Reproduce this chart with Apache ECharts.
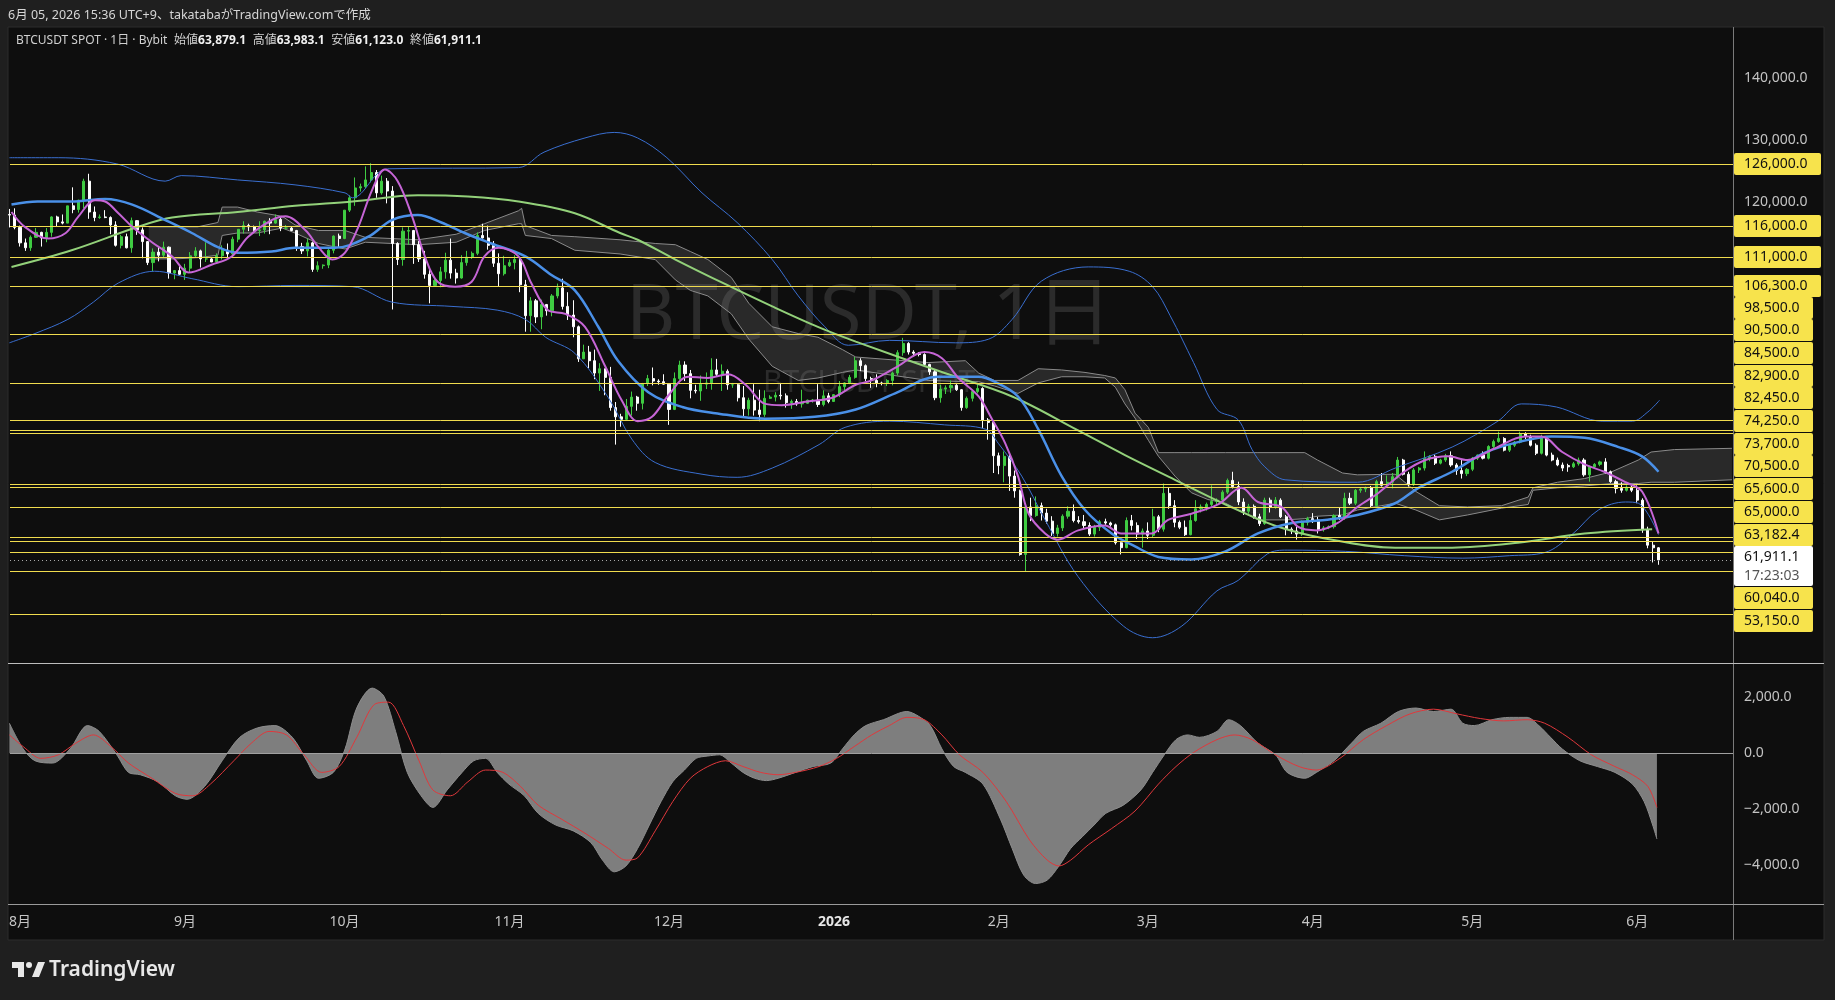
<!DOCTYPE html>
<html lang="ja">
<head>
<meta charset="UTF-8">
<title>BTCUSDT SPOT 1日</title>
<script src="https://cdn.jsdelivr.net/npm/echarts@6/dist/echarts.min.js"></script>
<style>
  html, body { margin: 0; padding: 0; background: #1f1f1f; }
  #chart { width: 1835px; height: 1000px; }
</style>
</head>
<body>
<div id="chart"></div>
<script>
// daily candles, first one is 2025-07-30 (day index -2, 2025-08-01 = 0), prices in thousand USDT
const openK = [
  117.9, 117.8,
  // Aug
  115.8, 113.3, 112.5, 114.2, 115.0, 114.1, 115.0, 117.5, 116.7, 116.5, 119.3, 118.7, 120.2, 123.3, 118.3, 117.4,
  117.5, 117.4, 116.2, 112.9, 114.3, 112.5, 116.9, 115.4, 113.5, 110.1, 111.8, 111.3, 112.6, 108.4, 108.8,
  // Sep
  108.2, 109.2, 111.2, 112.0, 110.7, 110.7, 110.2, 111.2, 112.1, 111.5, 113.9, 115.5, 116.1, 115.9, 115.3,
  115.4, 116.8, 116.5, 117.1, 115.7, 115.7, 115.3, 112.7, 112.0, 113.3, 109.0, 109.6, 109.7, 112.1, 114.4,
  // Oct
  114.0, 118.6, 120.6, 122.2, 122.4, 123.5, 124.7, 121.4, 123.3, 121.7, 113.2, 110.6, 115.2, 115.3, 113.0, 110.7,
  108.2, 106.4, 107.2, 108.6, 110.5, 108.4, 107.6, 110.1, 111.0, 111.6, 114.5, 114.1, 112.9, 110.0, 108.3,
  // Nov
  109.6, 110.1, 110.6, 106.5, 101.5, 103.9, 101.3, 103.3, 102.3, 104.7, 106.0, 103.0, 101.6, 99.7, 94.5,
  95.6, 94.2, 92.2, 92.9, 91.5, 86.6, 85.1, 84.7, 86.8, 88.3, 87.3, 90.5, 91.3, 90.9, 90.8,
  // Dec
  90.4, 86.3, 91.3, 93.5, 92.1, 89.4, 89.3, 90.4, 90.6, 92.7, 92.0, 92.5, 90.3, 90.3, 88.2, 86.4,
  87.8, 86.2, 85.5, 88.1, 88.3, 88.6, 88.5, 87.4, 87.6, 87.2, 87.3, 87.8, 87.8, 87.1, 88.5,
  // Jan
  87.6, 88.7, 90.0, 90.6, 91.5, 94.2, 93.4, 91.3, 91.0, 90.6, 90.5, 91.0, 92.2, 95.5, 97.0, 95.6,
  95.4, 95.2, 93.6, 92.4, 88.2, 89.6, 89.8, 90.2, 89.5, 86.6, 88.1, 89.2, 89.7, 84.6, 84.2,
  // Feb
  78.8, 77.2, 78.7, 75.5, 73.1, 62.8, 70.5, 69.1, 70.7, 69.5, 68.2, 66.2, 67.1, 69.0,
  69.8, 68.3, 68.1, 67.5, 66.1, 67.2, 68.1, 67.9, 67.6, 64.7, 63.9, 68.3, 67.5, 66.1,
  // Mar
  66.6, 65.9, 68.9, 66.9, 72.7, 70.7, 68.0, 67.2, 66.0, 68.3, 70.2, 70.5, 70.9, 71.4, 71.6, 72.9,
  74.8, 73.8, 71.3, 69.8, 70.6, 68.9, 67.8, 71.6, 70.5, 71.6, 68.9, 66.9, 66.6, 66.1, 68.0,
  // Apr
  68.6, 68.4, 66.8, 67.1, 67.3, 69.1, 68.7, 71.9, 71.1, 73.2, 73.4, 73.6, 70.7, 74.6, 74.0,
  74.5, 75.4, 78.1, 75.8, 74.1, 76.5, 76.8, 78.4, 78.7, 77.6, 78.1, 78.8, 77.3, 76.4, 75.9,
  // May
  76.6, 78.4, 78.9, 78.4, 80.3, 81.1, 81.6, 79.7, 80.5, 81.0, 82.4, 81.9, 80.5, 79.2, 81.9, 78.9,
  78.1, 77.3, 77.2, 77.0, 77.5, 78.1, 75.7, 77.0, 77.4, 77.8, 76.2, 74.6, 73.5, 73.2, 73.7,
  // Jun
  73.2, 71.6, 66.8, 64.3, 63.8791
];
const highK = [
  118.8, 118.9,
  116.1, 114.0, 114.5, 115.7, 115.1, 115.7, 117.6, 117.7, 117.9, 119.3, 122.3, 120.3, 123.7, 124.5, 119.2, 117.9,
  118.6, 117.6, 116.8, 114.6, 114.8, 117.4, 117.0, 115.8, 113.6, 112.4, 112.6, 113.5, 112.7, 108.9, 109.5,
  109.9, 111.8, 112.6, 112.2, 113.4, 111.0, 111.6, 112.9, 113.2, 114.3, 115.5, 116.8, 116.4, 116.1, 116.8,
  116.9, 117.3, 117.9, 117.5, 116.2, 115.9, 115.4, 113.3, 114.0, 113.5, 110.3, 109.8, 112.4, 114.5, 114.8,
  118.6, 121.0, 123.9, 122.9, 125.7, 126.2, 125.1, 124.2, 123.8, 122.5, 113.4, 115.8, 116.0, 115.4, 113.6, 112.0,
  109.2, 107.5, 109.4, 111.7, 114.0, 109.1, 111.3, 112.0, 111.9, 115.0, 116.4, 116.1, 113.6, 111.6, 111.2,
  110.6, 111.3, 110.8, 107.3, 104.5, 104.2, 104.1, 103.4, 105.0, 106.7, 107.5, 105.3, 104.0, 99.9, 96.8,
  96.6, 96.0, 93.8, 92.9, 93.2, 87.5, 85.6, 88.0, 89.2, 88.5, 90.6, 91.9, 93.1, 91.2, 92.0,
  90.4, 92.3, 94.2, 94.1, 92.7, 90.3, 91.8, 92.3, 94.6, 94.5, 93.6, 92.8, 90.6, 90.5, 90.1, 88.2,
  90.4, 89.5, 89.4, 88.6, 89.1, 90.6, 88.9, 87.9, 88.0, 89.5, 87.9, 88.0, 90.4, 89.4, 89.0,
  88.8, 90.9, 90.7, 91.9, 94.8, 94.6, 93.6, 91.6, 92.0, 90.8, 91.2, 92.4, 95.9, 97.9, 97.2, 95.9,
  95.6, 95.4, 93.7, 92.7, 90.3, 90.2, 91.0, 90.4, 89.6, 88.4, 89.4, 90.3, 89.9, 84.9, 84.5,
  79.3, 79.5, 79.2, 76.4, 73.3, 71.0, 72.0, 72.2, 71.2, 70.2, 69.0, 67.6, 69.3, 70.6,
  70.9, 69.0, 69.2, 68.0, 67.6, 68.4, 68.6, 68.1, 67.8, 65.0, 68.8, 69.2, 68.0, 67.0,
  68.0, 70.2, 69.2, 74.3, 73.7, 71.6, 68.3, 68.3, 69.4, 71.6, 70.9, 71.2, 74.0, 71.9, 73.2, 75.1,
  76.2, 74.6, 71.9, 71.0, 70.9, 69.4, 72.0, 72.0, 72.1, 71.9, 69.2, 67.2, 67.3, 68.3, 68.9,
  69.5, 68.9, 67.4, 67.5, 69.3, 70.4, 72.8, 72.8, 73.4, 73.6, 73.8, 73.9, 74.9, 76.0, 75.6,
  76.0, 78.6, 78.3, 76.2, 76.8, 77.0, 79.5, 78.9, 79.0, 78.3, 79.1, 79.5, 77.6, 78.1, 76.8,
  78.6, 79.0, 79.5, 80.5, 81.4, 82.7, 81.8, 80.7, 81.2, 82.7, 82.6, 82.2, 80.8, 82.2, 82.0, 79.3,
  78.5, 77.7, 77.5, 77.8, 78.5, 78.4, 77.2, 77.6, 78.0, 78.4, 76.4, 74.9, 74.5, 74.0, 74.0,
  74.0, 71.9, 67.3, 64.9, 63.9831
];
const lowK = [
  115.8, 115.5,
  112.7, 112.0, 112.0, 114.1, 112.7, 113.4, 114.3, 115.9, 116.3, 116.5, 118.1, 118.2, 118.9, 117.2, 116.8, 117.2,
  117.3, 114.7, 112.7, 112.4, 112.4, 111.7, 114.6, 110.8, 109.7, 108.7, 110.3, 110.9, 107.5, 107.4, 108.1,
  107.3, 108.6, 110.9, 109.3, 110.2, 110.2, 110.0, 110.6, 110.8, 110.9, 113.4, 114.8, 115.2, 115.1, 114.4,
  114.8, 114.7, 116.4, 115.2, 115.5, 115.2, 112.0, 111.5, 111.1, 108.6, 108.6, 109.1, 109.2, 111.6, 112.6,
  113.9, 118.3, 119.3, 121.6, 122.1, 123.1, 120.6, 121.1, 119.7, 102.5, 109.7, 109.6, 113.0, 109.9, 110.2, 107.5,
  103.5, 106.3, 106.1, 107.5, 107.5, 106.7, 107.5, 109.6, 110.7, 111.3, 114.0, 112.2, 109.4, 106.3, 108.0,
  109.4, 109.0, 105.3, 98.9, 98.9, 100.3, 99.3, 101.5, 101.4, 104.3, 102.5, 100.8, 98.0, 94.0, 94.5,
  93.0, 91.2, 89.3, 88.6, 86.1, 80.6, 83.5, 84.6, 85.3, 86.1, 86.3, 90.1, 90.2, 90.3, 90.3,
  83.8, 86.2, 91.1, 90.9, 88.1, 88.9, 87.7, 89.6, 89.5, 91.6, 89.3, 89.5, 89.8, 87.6, 85.1, 85.3,
  85.3, 84.4, 85.1, 88.0, 87.6, 87.9, 86.6, 86.4, 86.9, 86.6, 87.2, 87.4, 86.7, 86.8, 87.3,
  87.5, 88.3, 89.3, 90.4, 91.3, 92.5, 90.9, 89.8, 89.9, 90.2, 90.1, 90.2, 91.8, 95.0, 95.2, 94.9,
  94.9, 93.2, 91.9, 87.8, 87.4, 88.8, 89.0, 89.3, 86.1, 86.4, 87.6, 88.9, 83.3, 81.4, 76.0,
  75.8, 74.5, 73.1, 72.0, 62.6, 60.1, 68.2, 68.9, 68.3, 67.8, 65.8, 65.7, 66.6, 68.6,
  68.0, 67.8, 66.9, 65.8, 65.7, 66.6, 67.6, 67.3, 64.4, 62.8, 63.8, 66.7, 65.3, 63.9,
  65.3, 65.6, 66.4, 66.5, 70.2, 67.2, 66.9, 65.8, 65.9, 68.1, 69.6, 69.9, 70.6, 70.9, 71.3, 72.6,
  73.5, 70.8, 69.2, 69.4, 68.6, 67.4, 67.6, 69.6, 70.2, 68.7, 65.9, 66.1, 65.2, 65.8, 67.5,
  67.9, 66.2, 66.5, 66.9, 67.0, 68.4, 68.4, 70.8, 70.8, 72.8, 72.9, 70.4, 70.5, 73.8, 73.6,
  73.5, 75.1, 75.6, 73.8, 73.9, 76.0, 76.4, 77.9, 77.3, 77.4, 77.8, 77.0, 75.7, 75.1, 75.5,
  76.3, 78.1, 78.2, 78.2, 80.0, 80.9, 79.5, 79.4, 80.2, 80.8, 81.5, 80.3, 78.9, 79.0, 78.7, 77.9,
  77.1, 76.3, 76.2, 76.8, 77.2, 75.4, 74.6, 76.7, 77.1, 75.9, 74.4, 72.7, 72.8, 73.0, 72.9,
  71.1, 66.3, 63.8, 61.5, 61.123
];
const closeK = [
  117.8, 115.8,
  113.3, 112.5, 114.2, 115.0, 114.1, 115.0, 117.5, 116.7, 116.5, 119.3, 118.7, 120.2, 123.3, 118.3, 117.4, 117.5,
  117.4, 116.2, 112.9, 114.3, 112.5, 116.9, 115.4, 113.5, 110.1, 111.8, 111.3, 112.6, 108.4, 108.8, 108.2,
  109.2, 111.2, 112.0, 110.7, 110.7, 110.2, 111.2, 112.1, 111.5, 113.9, 115.5, 116.1, 115.9, 115.3, 115.4,
  116.8, 116.5, 117.1, 115.7, 115.7, 115.3, 112.7, 112.0, 113.3, 109.0, 109.6, 109.7, 112.1, 114.4, 114.0,
  118.6, 120.6, 122.2, 122.4, 123.5, 124.7, 121.4, 123.3, 121.7, 113.2, 110.6, 115.2, 115.3, 113.0, 110.7, 108.2,
  106.4, 107.2, 108.6, 110.5, 108.4, 107.6, 110.1, 111.0, 111.6, 114.5, 114.1, 112.9, 110.0, 108.3, 109.6,
  110.1, 110.6, 106.5, 101.5, 103.9, 101.3, 103.3, 102.3, 104.7, 106.0, 103.0, 101.6, 99.7, 94.5, 95.6,
  94.2, 92.2, 92.9, 91.5, 86.6, 85.1, 84.7, 86.8, 88.3, 87.3, 90.5, 91.3, 90.9, 90.8, 90.4,
  86.3, 91.3, 93.5, 92.1, 89.4, 89.3, 90.4, 90.6, 92.7, 92.0, 92.5, 90.3, 90.3, 88.2, 86.4, 87.8,
  86.2, 85.5, 88.1, 88.3, 88.6, 88.5, 87.4, 87.6, 87.2, 87.3, 87.8, 87.8, 87.1, 88.5, 87.6,
  88.7, 90.0, 90.6, 91.5, 94.2, 93.4, 91.3, 91.0, 90.6, 90.5, 91.0, 92.2, 95.5, 97.0, 95.6, 95.4,
  95.2, 93.6, 92.4, 88.2, 89.6, 89.8, 90.2, 89.5, 86.6, 88.1, 89.2, 89.7, 84.6, 84.2, 78.8,
  77.2, 78.7, 75.5, 73.1, 62.8, 70.5, 69.1, 70.7, 69.5, 68.2, 66.2, 67.1, 69.0, 69.8,
  68.3, 68.1, 67.5, 66.1, 67.2, 68.1, 67.9, 67.6, 64.7, 63.9, 68.3, 67.5, 66.1, 66.6,
  65.9, 68.9, 66.9, 72.7, 70.7, 68.0, 67.2, 66.0, 68.3, 70.2, 70.5, 70.9, 71.4, 71.6, 72.9, 74.8,
  73.8, 71.3, 69.8, 70.6, 68.9, 67.8, 71.6, 70.5, 71.6, 68.9, 66.9, 66.6, 66.1, 68.0, 68.6,
  68.4, 66.8, 67.1, 67.3, 69.1, 68.7, 71.9, 71.1, 73.2, 73.4, 73.6, 70.7, 74.6, 74.0, 74.5,
  75.4, 78.1, 75.8, 74.1, 76.5, 76.8, 78.4, 78.7, 77.6, 78.1, 78.8, 77.3, 76.4, 75.9, 76.6,
  78.4, 78.9, 78.4, 80.3, 81.1, 81.6, 79.7, 80.5, 81.0, 82.4, 81.9, 80.5, 79.2, 81.9, 78.9, 78.1,
  77.3, 76.8, 77.0, 77.5, 78.1, 75.7, 77.0, 77.4, 77.8, 76.2, 74.6, 73.5, 73.2, 73.7, 73.2,
  71.6, 66.8, 64.3, 63.8791, 61.9111
];
const firstDay = -2;

// indicator lines: [day index, thousand USDT]
const maShort = [[-1.6,118.3],[0.9,115.9],[5.3,114.0],[8.6,114.9],[11.0,117.6],[14.1,120.2],[16.0,120.0],[18.5,118.1],[21.1,115.9],[24.8,113.4],[28.6,111.1],[31.7,108.5],[36.1,109.8],[39.8,111.1],[42.9,114.3],[47.3,117.0],[49.9,117.6],[53.7,115.3],[56.1,112.6],[58.7,110.6],[61.1,111.7],[63.6,115.9],[66.2,121.9],[68.6,125.2],[71.0,123.3],[73.7,117.6],[76.1,111.1],[78.5,107.0],[81.8,106.2],[84.9,107.0],[87.3,111.1],[90.0,112.5],[93.7,111.1],[96.1,106.8],[99.2,102.4],[102.5,101.8],[106.2,99.7],[110.0,93.3],[113.1,87.8],[116.1,84.4],[118.8,85.1],[121.9,88.6],[125.6,91.6],[129.3,91.4],[133.1,92.0],[136.4,90.3],[140.1,87.2],[143.2,87.0],[148.0,87.6],[152.7,88.2],[157.1,90.3],[160.1,91.0],[165.0,93.3],[170.0,95.6],[173.3,94.6],[176.4,91.4],[180.2,88.4],[182.8,84.6],[185.2,80.8],[187.6,75.5],[189.6,69.4],[192.7,66.2],[195.1,65.2],[198.9,66.7],[203.9,67.5],[207.0,66.2],[212.7,66.2],[215.8,68.4],[220.2,69.4],[225.2,70.9],[229.6,73.6],[232.7,71.3],[237.1,70.5],[240.2,67.3],[243.9,66.7],[247.7,67.9],[251.4,70.5],[255.4,72.8],[260.2,76.2],[264.2,78.1],[268.4,78.7],[272.1,78.1],[277.2,80.0],[282.9,81.9],[286.0,81.9],[289.9,79.4],[294.1,77.4],[297.8,76.2],[301.8,74.5],[304.9,73.0],[308.0,66.2]];
const maMid = [[-1.6,119.5],[3.3,120.0],[9.7,120.0],[16.0,120.4],[21.1,119.5],[27.3,117.0],[32.3,114.9],[37.2,112.6],[40.9,111.7],[47.3,111.9],[51.7,112.5],[59.2,112.5],[65.5,114.3],[69.9,117.0],[74.8,117.8],[79.2,116.6],[83.6,114.9],[88.6,113.2],[95.0,111.1],[99.9,108.1],[104.3,105.6],[108.7,99.7],[112.4,94.2],[118.1,89.1],[124.5,86.7],[130.7,85.7],[140.1,84.8],[149.4,85.1],[157.1,86.3],[164.5,88.9],[172.5,91.6],[180.2,91.6],[183.2,90.8],[187.6,88.4],[191.4,83.1],[195.8,75.5],[200.2,70.0],[205.2,66.2],[209.6,64.1],[214.0,62.4],[220.2,62.0],[226.6,63.3],[232.7,66.2],[239.1,67.9],[245.3,68.4],[251.4,69.2],[258.5,71.1],[262.9,73.6],[269.2,76.2],[275.4,79.3],[281.6,81.0],[287.9,81.9],[294.1,81.7],[300.5,80.2],[304.9,78.7],[308.0,76.2]];
const maLong = [[-1.6,109.4],[9.7,112.1],[22.2,115.9],[28.6,117.4],[40.9,118.3],[51.7,119.3],[62.5,120.0],[74.8,121.0],[84.2,120.8],[93.7,120.0],[104.3,118.1],[112.8,114.9],[116.1,113.8],[123.2,110.6],[132.6,106.6],[141.4,103.0],[150.2,99.6],[157.1,97.3],[173.8,92.2],[186.5,88.4],[198.9,82.9],[207.7,78.9],[217.1,74.9],[226.6,70.9],[235.8,67.5],[245.3,65.4],[258.5,63.9],[269.2,63.9],[281.6,64.7],[294.1,66.2],[306.8,66.9]];
const bbUpper = [[-2,127.1],[7.2,127.1],[18.2,126.1],[27.3,123.3],[30.3,124.2],[40.9,123.5],[51.7,122.7],[61.1,121.4],[62.5,120.6],[69.1,125.3],[93.7,125.5],[98.5,128.0],[106.2,130.3],[111.7,131.2],[116.1,130.3],[121.6,127.1],[128.2,121.4],[134.8,116.6],[141.4,110.6],[146.3,104.7],[151.3,99.7],[155.7,96.7],[163.4,97.5],[175.8,97.1],[182.1,97.7],[186.5,100.9],[192.0,107.1],[200.8,109.4],[208.5,108.7],[212.9,106.2],[216.2,101.5],[220.6,93.9],[225.0,86.3],[229.0,84.6],[231.6,79.8],[234.0,77.0],[237.8,74.9],[251.4,74.5],[258.5,76.8],[269.2,80.2],[277.8,84.4],[282.2,87.2],[288.8,86.7],[297.4,84.4],[303.1,84.4],[306.0,85.9],[308.2,87.8]];
const bbLower = [[-2,97.1],[2.8,98.6],[9.0,100.9],[13.8,103.7],[18.5,106.8],[25.3,108.7],[32.3,107.5],[40.9,106.2],[51.7,106.4],[62.5,106.2],[69.9,103.7],[81.2,103.0],[89.7,102.4],[95.0,100.9],[98.8,98.0],[104.3,95.4],[110.6,88.2],[115.0,81.5],[119.4,77.7],[128.2,75.8],[134.8,75.3],[141.4,76.8],[150.2,80.6],[155.1,83.4],[163.4,84.4],[173.8,83.8],[181.5,83.1],[183.9,80.8],[188.3,75.5],[192.7,68.4],[198.9,59.2],[207.4,51.2],[212.9,49.3],[218.4,51.2],[225.0,56.9],[229.0,58.6],[234.5,62.9],[238.2,63.5],[249.2,63.3],[260.2,62.6],[271.2,62.2],[280.0,62.6],[286.6,63.1],[291.7,66.0],[296.7,70.0],[301.8,71.3],[304.2,71.1],[308.0,66.0]];

// ichimoku cloud edges
const cloudDays = [24.2,29.2,33.4,37.2,38.0,40.9,44.6,49.3,51.7,56.1,61.1,64.9,74.8,82.0,87.3,93.7,94.3,95.0,99.9,104.3,112.8,119.4,123.2,126.0,129.3,133.7,137.0,141.4,146.3,150.0,154.6,157.1,170.7,177.7,180.2,183.2,187.6,191.4,195.8,200.2,203.9,205.9,207.7,209.6,212.1,214.0,217.1,220.2,223.3,226.6,232.7,237.8,241.5,243.9,248.6,251.4,258.5,262.4,266.8,272.1,278.5,283.5,284.4,289.0,294.1,299.2,304.2,306.6,311.0,321.8];
const cloudHi = [115.9,115.9,115.9,116.6,119.1,119.1,118.3,117.6,116.2,115.3,115.3,114.2,113.8,114.7,116.4,118.5,118.9,116.1,114.5,114.3,113.8,113.2,113.0,111.9,110.6,107.7,103.5,99.7,98.6,98.0,96.0,94.8,93.9,94.2,92.2,91.0,91.0,92.9,92.7,92.3,91.8,91.4,89.5,85.7,83.4,79.3,79.3,79.3,79.3,79.3,79.3,79.3,79.3,78.1,76.0,75.7,75.8,73.0,70.7,70.5,70.7,72.1,73.6,74.5,75.1,76.2,78.1,79.4,79.8,80.0];
const cloudLo = [110.7,110.7,110.9,111.3,114.5,114.9,114.9,115.7,114.9,113.2,112.3,113.4,113.0,113.4,115.3,116.4,116.4,114.5,114.0,112.1,111.5,110.6,107.3,105.6,104.7,101.8,97.7,93.3,91.0,91.4,92.3,92.7,91.0,90.8,90.8,90.1,88.9,90.6,91.6,91.6,91.4,89.9,87.2,84.9,81.3,78.7,75.5,72.8,71.7,71.1,68.4,68.4,68.6,69.0,69.2,70.0,71.1,70.0,68.4,69.2,70.3,70.9,73.2,73.6,73.9,74.3,74.3,74.5,74.5,74.9];

// oscillator pane: [day index, value]
const oscArea = [[-2.0,1076],[0.6,155],[2.8,-266],[6.1,-350],[9.4,155],[12.7,992],[14.9,783],[18.2,-55],[20.4,-683],[22.6,-767],[25.9,-1018],[29.2,-1520],[31.4,-1646],[34.7,-1186],[38.0,-266],[41.3,571],[44.6,906],[47.9,992],[51.2,571],[53.9,-266],[56.1,-894],[58.9,-683],[61.1,155],[63.3,1620],[66.2,2332],[68.4,2039],[70.6,783],[72.8,-683],[75.4,-1520],[77.6,-1938],[80.3,-1310],[83.1,-683],[85.3,-266],[87.5,-181],[89.7,-683],[91.9,-1101],[94.8,-1520],[97.4,-2148],[100.7,-2566],[104.0,-2776],[107.3,-3194],[109.5,-3822],[111.7,-4241],[113.9,-4032],[116.1,-3404],[118.3,-2566],[120.5,-1729],[122.7,-1018],[124.9,-599],[127.1,-181],[129.3,-97],[131.5,-55],[133.7,-350],[135.9,-683],[138.1,-894],[140.3,-977],[142.5,-894],[145.8,-683],[149.1,-473],[152.4,-350],[154.6,155],[156.8,658],[159.0,992],[162.3,1202],[166.7,1495],[168.9,1327],[171.1,992],[173.3,155],[175.5,-473],[177.7,-683],[181.0,-1101],[184.3,-2357],[186.5,-3404],[188.7,-4367],[190.9,-4660],[193.1,-4535],[195.3,-4032],[197.5,-3404],[199.7,-2985],[201.9,-2566],[204.1,-2148],[207.4,-1855],[210.7,-1310],[212.9,-683],[215.1,-55],[217.3,489],[219.5,658],[221.7,571],[225.0,783],[227.2,1202],[229.4,992],[232.7,364],[236.0,-55],[238.2,-683],[241.5,-894],[243.7,-683],[247.0,-266],[250.3,364],[252.5,783],[255.8,1076],[259.1,1495],[262.4,1620],[265.7,1495],[269.0,1579],[271.2,1076],[273.4,992],[276.7,1202],[280.0,1285],[283.3,1285],[285.5,992],[287.7,571],[289.9,155],[293.2,-266],[296.5,-473],[299.8,-683],[303.1,-1101],[305.3,-1729],[306.9,-2566],[307.7,-3068]];
const oscSignal = [[-2.0,658],[0.6,240],[3.9,-181],[7.2,-55],[10.5,364],[13.8,658],[17.1,240],[20.4,-350],[24.8,-894],[29.2,-1436],[32.5,-1520],[35.8,-1101],[40.2,-266],[43.5,364],[46.8,783],[50.1,658],[53.4,-55],[56.7,-683],[60.0,-473],[63.3,571],[66.6,1746],[69.3,1830],[72.1,992],[75.0,-266],[77.6,-1310],[80.9,-1520],[84.2,-1018],[87.5,-599],[90.8,-683],[94.1,-1186],[97.4,-1855],[101.8,-2357],[106.2,-2859],[110.6,-3404],[113.9,-3822],[116.1,-3738],[119.4,-2776],[122.7,-1729],[126.0,-894],[129.3,-473],[132.6,-266],[135.9,-473],[139.2,-683],[142.5,-767],[145.8,-683],[150.2,-473],[153.5,-181],[156.8,240],[160.1,658],[163.4,992],[166.7,1285],[170.0,1202],[173.3,658],[176.6,-55],[181.0,-683],[185.4,-1729],[189.8,-3110],[193.1,-3822],[195.3,-4032],[197.5,-3822],[200.8,-3278],[205.2,-2692],[209.6,-2064],[214.0,-1101],[217.3,-473],[220.6,29],[225.0,489],[228.3,658],[231.6,489],[236.0,-55],[240.4,-473],[243.7,-599],[248.1,-181],[252.5,489],[256.9,992],[261.3,1411],[265.7,1579],[270.1,1411],[274.5,1244],[278.9,1160],[283.3,1202],[286.6,1076],[291.0,571],[295.4,-55],[299.8,-473],[303.1,-767],[306.0,-1186],[307.7,-1938]];

// horizontal levels and axis text
const levels = [126000, 116000, 111000, 106300, 98500, 90500, 84500, 82900, 82450, 74250, 73700, 70500, 65600, 65000, 63182.4, 60040, 53150];
const monthTicks = [0, 31, 61, 92, 122, 153, 184, 212, 243, 273, 304];
const monthLabels = ['8月', '9月', '10月', '11月', '12月', '2026', '2月', '3月', '4月', '5月', '6月'];
const priceTicks = [140000, 130000, 120000];
const oscTicks = [2000, 0, -2000, -4000];
const barCountdown = '17:23:03';

const FONT = '"Noto Sans", "Noto Sans CJK JP", sans-serif';
const UP = '#3fcc42', DOWN = '#ffffff', LEVEL = '#f0dc4e', CLOUD_LINE = '#8a8a8a';
const fmt = v => v.toLocaleString('en-US', {minimumFractionDigits: 1, maximumFractionDigits: 1});
const k = pts => pts.map(p => [p[0], p[1] * 1000]);

const candles = openK.map((o, i) => [firstDay + i, o * 1000, closeK[i] * 1000, lowK[i] * 1000, highK[i] * 1000]);
const last = candles[candles.length - 1];
const cloudTop = cloudDays.map((d, i) => [d, cloudHi[i] * 1000]);
const cloudBottom = cloudDays.map((d, i) => [d, cloudLo[i] * 1000]);

const chart = echarts.init(document.getElementById('chart'));
const lineS = (name, data, color, width, z, smooth) => ({
    name, type: 'line', data, xAxisIndex: 0, yAxisIndex: 0, showSymbol: false, symbol: 'none',
    smooth: smooth === undefined ? 0.35 : smooth, z, silent: true, lineStyle: {color, width}
});

chart.setOption({
    animation: false,
    backgroundColor: '#1f1f1f',
    textStyle: {fontFamily: FONT},
    grid: [
        {left: 10, top: 28, width: 1723, height: 634, outerBoundsMode: 'none'},
        {left: 10, top: 664, width: 1723, height: 240, outerBoundsMode: 'none'}
    ],
    xAxis: [
        {gridIndex: 0, type: 'value', min: -1.88, max: 322, show: false},
        {gridIndex: 1, type: 'value', min: -1.88, max: 322,
            axisLine: {show: false}, axisTick: {show: false}, splitLine: {show: false},
            axisLabel: {
                customValues: monthTicks, margin: 11, fontSize: 14, color: '#c6c6c6',
                formatter: v => {
                    const s = monthLabels[monthTicks.indexOf(v)];
                    return s === '2026' ? '{y|2026}' : s;
                },
                rich: {y: {fontWeight: 'bold', color: '#e6e6e6', fontSize: 14}}
            }
        }
    ],
    yAxis: [
        {gridIndex: 0, type: 'value', position: 'right', min: 45368, max: 148123,
            axisLine: {show: false}, axisTick: {show: false}, splitLine: {show: false},
            axisLabel: {customValues: priceTicks, formatter: v => fmt(v), color: '#c3c3c3', fontSize: 14, margin: 11}
        },
        {gridIndex: 1, type: 'value', position: 'right', min: -5392, max: 3195,
            axisLine: {show: false}, axisTick: {show: false}, splitLine: {show: false},
            axisLabel: {customValues: oscTicks, color: '#c3c3c3', fontSize: 14, margin: 11,
                formatter: v => (v < 0 ? '\u2212' : '') + fmt(Math.abs(v))}
        }
    ],
    series: [
        {   // cloud fill between its two edges
            name: 'cloudFill', type: 'custom', xAxisIndex: 0, yAxisIndex: 0, z: 1, silent: true, clip: true,
            data: [[cloudDays[0], cloudTop[0][1]]],
            renderItem: (params, api) => {
                const pts = cloudTop.map(p => api.coord(p)).concat(cloudBottom.slice().reverse().map(p => api.coord(p)));
                return {type: 'polygon', shape: {points: pts}, style: {fill: 'rgba(150,150,150,0.2)'}};
            }
        },
        lineS('cloudTop', cloudTop, CLOUD_LINE, 1, 1, false),
        lineS('cloudBottom', cloudBottom, CLOUD_LINE, 1, 1, false),
        {
            name: 'BTCUSDT', type: 'candlestick', xAxisIndex: 0, yAxisIndex: 0, z: 2,
            data: candles, dimensions: ['day', 'open', 'close', 'low', 'high'],
            encode: {x: 'day', y: ['open', 'close', 'low', 'high']},
            barWidth: 2.6,
            itemStyle: {color: UP, color0: DOWN, borderColor: UP, borderColor0: DOWN, borderWidth: 1},
            markLine: {
                silent: true, symbol: 'none', label: {show: false},
                data: levels.map(v => ({yAxis: v, lineStyle: {color: LEVEL, width: 1, type: 'solid'}}))
                    .concat([{yAxis: last[2], lineStyle: {color: '#a8a8a8', width: 1, type: [1, 3]}}])
            }
        },
        lineS('bbUpper', k(bbUpper), '#3a6fd0', 1, 3),
        lineS('bbLower', k(bbLower), '#3a6fd0', 1, 3),
        lineS('maLong', k(maLong), '#93d17a', 2, 4),
        lineS('maMid', k(maMid), '#4a90e8', 2.5, 4),
        lineS('maShort', k(maShort), '#c665d6', 2, 5),
        {name: 'osc', type: 'line', xAxisIndex: 1, yAxisIndex: 1, data: oscArea, showSymbol: false, symbol: 'none',
            smooth: 0.3, silent: true, z: 2, lineStyle: {color: '#8d8d8d', width: 1},
            areaStyle: {color: '#858585', opacity: 0.95},
            markLine: {silent: true, symbol: 'none', label: {show: false},
                data: [{yAxis: 0}], lineStyle: {color: '#a0a0a0', width: 1, type: 'solid'}}
        },
        {name: 'signal', type: 'line', xAxisIndex: 1, yAxisIndex: 1, data: oscSignal, showSymbol: false, symbol: 'none',
            smooth: 0.3, silent: true, z: 3, lineStyle: {color: '#e0383c', width: 1}}
    ]
});

// frame, headers, watermark and right-side price tags
const yPx = v => chart.convertToPixel({yAxisIndex: 0}, v);
const g = [];
g.push({type: 'rect', z: -100, shape: {x: 8, y: 27, width: 1816, height: 913}, style: {fill: '#0e0e0e', stroke: '#2c2c2c', lineWidth: 1}});
g.push({type: 'text', z: -50, x: 869, y: 317, style: {text: 'BTCUSDT, 1日', font: '76px ' + FONT, fill: '#2b2b2b', align: 'center', verticalAlign: 'middle'}});
g.push({type: 'text', z: -50, x: 869, y: 383, style: {text: 'BTCUSDT SPOT', font: '30px ' + FONT, fill: '#2b2b2b', align: 'center', verticalAlign: 'middle'}});
g.push({type: 'line', z: 50, shape: {x1: 1733.5, y1: 27, x2: 1733.5, y2: 940}, style: {stroke: '#7a7a7a', lineWidth: 1}});
g.push({type: 'line', z: 50, shape: {x1: 8, y1: 663.5, x2: 1824, y2: 663.5}, style: {stroke: '#bdbdbd', lineWidth: 1}});
g.push({type: 'line', z: 50, shape: {x1: 8, y1: 904.5, x2: 1824, y2: 904.5}, style: {stroke: '#9a9a9a', lineWidth: 1}});
g.push({type: 'text', z: 50, x: 8, y: 15, style: {text: '6月 05, 2026 15:36 UTC+9、takatabaがTradingView.comで作成', font: '12.5px ' + FONT, fill: '#d6d6d6', verticalAlign: 'middle'}});
g.push({type: 'text', z: 50, x: 16, y: 41, style: {
    text: '{t|BTCUSDT SPOT · 1日 · Bybit}  {t|始値}{v|' + fmt(last[1]) + '}  {t|高値}{v|' + fmt(last[4]) +
          '}  {t|安値}{v|' + fmt(last[3]) + '}  {t|終値}{v|' + fmt(last[2]) + '}',
    verticalAlign: 'middle',
    rich: {t: {fontSize: 12, fontFamily: FONT, fill: '#d0d0d0', color: '#d0d0d0'},
           v: {fontSize: 12, fontFamily: FONT, fontWeight: 'bold', fill: '#f0f0f0', color: '#f0f0f0'}}
}});
// TradingView logo
g.push({type: 'rect', z: 50, shape: {x: 12, y: 962, width: 12, height: 6}, style: {fill: '#e8e8e8'}});
g.push({type: 'rect', z: 50, shape: {x: 18, y: 962, width: 6, height: 15}, style: {fill: '#e8e8e8'}});
g.push({type: 'circle', z: 50, shape: {cx: 29, cy: 965, r: 3}, style: {fill: '#e8e8e8'}});
g.push({type: 'polygon', z: 50, shape: {points: [[32, 977], [38, 962], [45, 962], [39, 977]]}, style: {fill: '#e8e8e8'}});
g.push({type: 'text', z: 50, x: 49, y: 970, style: {text: 'TradingView', font: '600 21px ' + FONT, fill: '#e8e8e8', verticalAlign: 'middle'}});

const tag = (cy, text, w) => ({
    type: 'group', z: 100, x: 1734, y: Math.round(cy - 11),
    children: [
        {type: 'rect', z: 100, shape: {x: 0, y: 0, width: w, height: 22, r: 2}, style: {fill: '#f7e34c'}},
        {type: 'text', z: 101, x: 10, y: 11, style: {text, font: '14px ' + FONT, fill: '#111111', verticalAlign: 'middle'}}
    ]
});
levels.slice(0, 4).forEach(v => g.push(tag(yPx(v), fmt(v), 87)));
let cy = yPx(levels[3]) + 21.5;
let curDone = false;
levels.slice(4).forEach(v => {
    if (!curDone && v < last[2]) {
        const top = Math.round(cy - 11);
        g.push({type: 'group', z: 100, x: 1734, y: top, children: [
            {type: 'rect', z: 100, shape: {x: 0, y: 0, width: 79, height: 40, r: 2}, style: {fill: '#ffffff'}},
            {type: 'text', z: 101, x: 10, y: 11, style: {text: fmt(last[2]), font: '14px ' + FONT, fill: '#111111', verticalAlign: 'middle'}},
            {type: 'text', z: 101, x: 10, y: 30, style: {text: barCountdown, font: '14px ' + FONT, fill: '#555555', verticalAlign: 'middle'}}
        ]});
        cy += 41;
        curDone = true;
    }
    g.push(tag(cy, fmt(v), 79));
    cy += 22.7;
});
chart.setOption({graphic: g});
</script>
</body>
</html>
